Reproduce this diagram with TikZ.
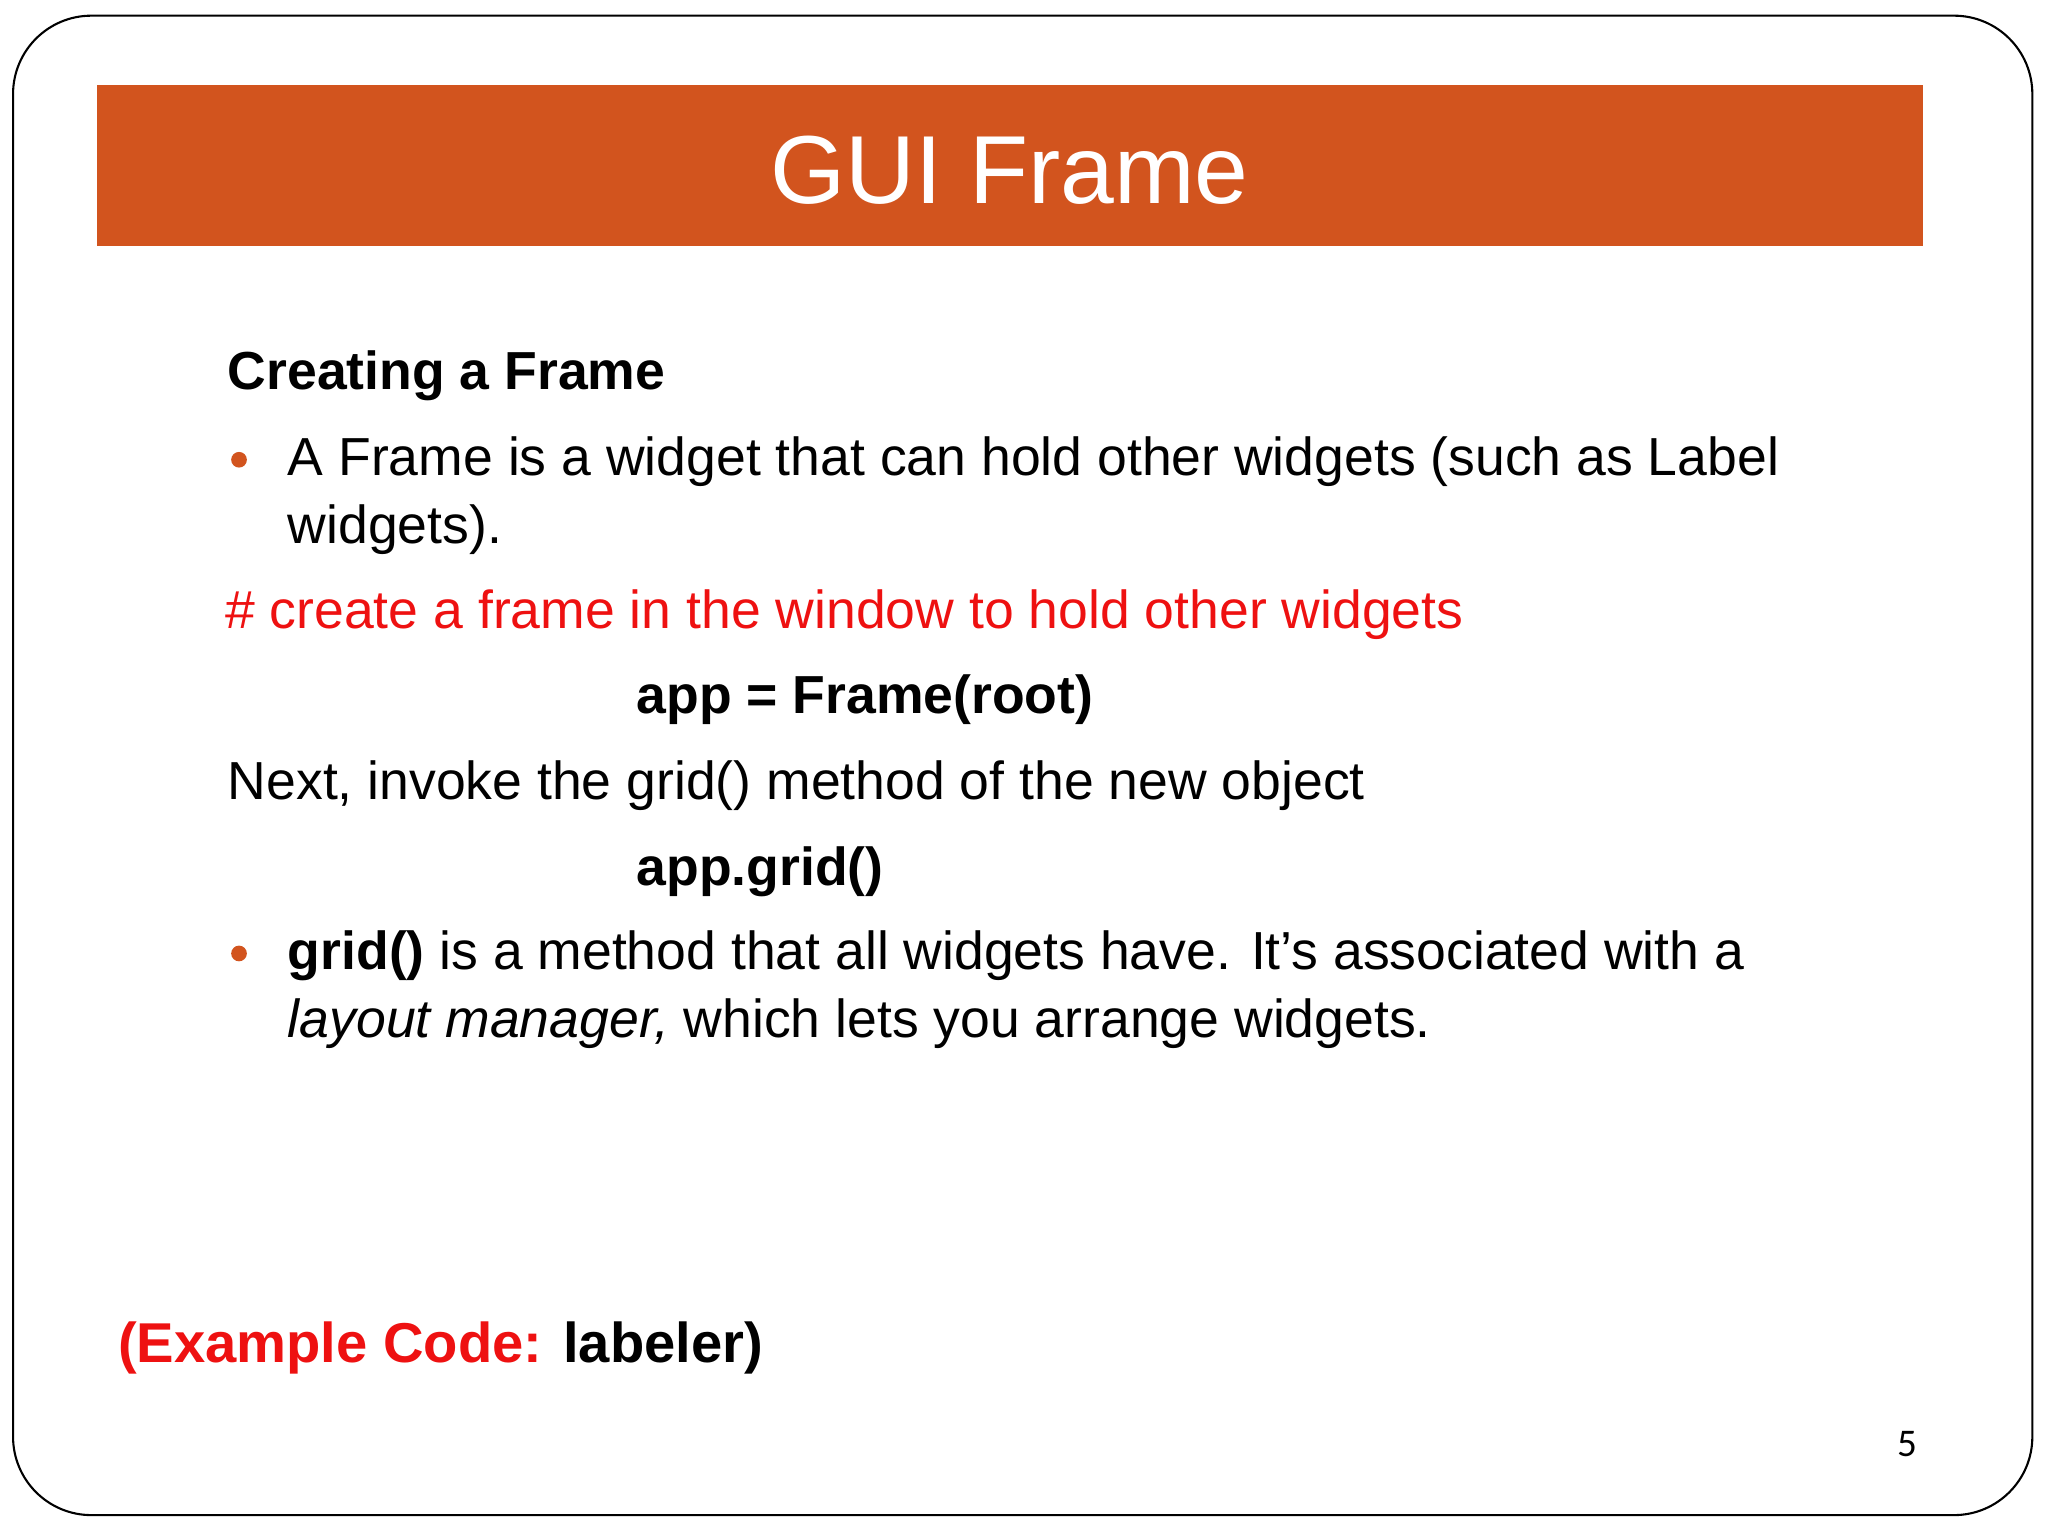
\documentclass[tikz,border=0pt]{standalone}
\usepackage{fontspec}
\setmainfont{Liberation Sans}
\newfontfamily\calib{Carlito}
\definecolor{org}{HTML}{D2541E}
\definecolor{rd}{HTML}{EE1111}
\begin{document}
\begin{tikzpicture}[x=0.5pt,y=-0.5pt,
  txt/.style={anchor=base west,inner sep=0pt,font=\fontsize{20.5}{24}\selectfont},
  bul/.style={circle,fill=org,inner sep=0pt,minimum size=6pt}]
\useasboundingbox (0,0) rectangle (1568,1176);
\draw[line width=0.8pt,rounded corners=30pt] (10,12) rectangle (1556,1160);
\node[fill=org,minimum width=699pt,minimum height=61.5pt,inner sep=0pt] (bar) at (773,126.5) {};
\node[text=white,font=\fontsize{37}{40}\selectfont,anchor=base,inner sep=0pt] (title) at (773,156) {GUI Frame};
\node[txt,font=\fontsize{20.5}{24}\selectfont\bfseries] (h) at (174,298) {Creating a Frame};
\node[bul] (b1) at (183,352) {};
\node[txt] (l1) at (220,364) {A Frame is a widget that can hold other widgets (such as Label};
\node[txt] (l2) at (220,416) {widgets).};
\node[txt,text=rd] (c) at (172,481) {\# create a frame in the window to hold other widgets};
\node[txt,font=\fontsize{20.5}{24}\selectfont\bfseries] (a1) at (487,546) {app = Frame(root)};
\node[txt] (n) at (174,612) {Next, invoke the grid() method of the new object};
\node[txt,font=\fontsize{20.5}{24}\selectfont\bfseries] (a2) at (487,678) {app.grid()};
\node[bul] (b2) at (183,730) {};
\node[txt] (g1) at (220,742) {\textbf{grid()} is a method that all widgets have. It’s associated with a};
\node[txt] (g2) at (220,794) {\textit{layout manager,} which lets you arrange widgets.};
\node[txt,font=\fontsize{21.5}{24}\selectfont\bfseries] (ex) at (90,1043) {\textcolor{rd}{(Example Code:} labeler)};
\node[anchor=base,inner sep=0pt,font=\calib\fontsize{15}{18}\selectfont] (pg) at (1460,1115) {5};
\end{tikzpicture}
\end{document}
